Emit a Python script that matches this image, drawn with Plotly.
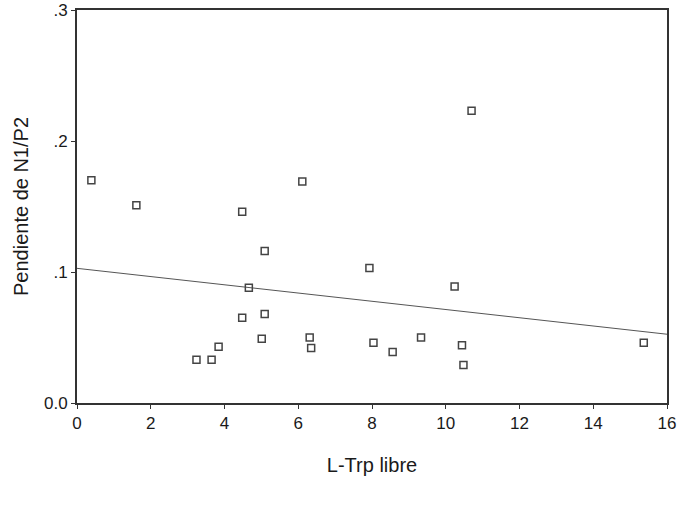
import plotly.graph_objects as go

# Data
trp_libre = [0.39, 1.61, 3.24, 3.65, 3.84, 4.48, 4.48, 4.66, 5.01, 5.09, 5.09,
             6.11, 6.31, 6.35, 7.93, 8.04, 8.56, 9.33, 10.24, 10.44, 10.48, 10.70, 15.37]
pendiente = [0.170, 0.151, 0.033, 0.033, 0.043, 0.146, 0.065, 0.088, 0.049, 0.116, 0.068,
             0.169, 0.050, 0.042, 0.103, 0.046, 0.039, 0.050, 0.089, 0.044, 0.029, 0.223, 0.046]
fit_x = [0, 16]
fit_y = [0.1028, 0.0525]

x_ticks = [0, 2, 4, 6, 8, 10, 12, 14, 16]
y_ticks = [0.0, 0.1, 0.2, 0.3]
y_tick_labels = ["0.0", ".1", ".2", ".3"]

fig = go.Figure()
fig.add_trace(go.Scatter(
    x=fit_x, y=fit_y, mode="lines",
    line=dict(color="#555555", width=1), hoverinfo="skip", showlegend=False))
fig.add_trace(go.Scatter(
    x=trp_libre, y=pendiente, mode="markers",
    marker=dict(symbol="square-open", size=7, color="#444444", line=dict(width=1.5)),
    showlegend=False))

font = "Liberation Sans, Arial, sans-serif"
fig.update_layout(
    width=683, height=506,
    margin=dict(l=77, r=16, t=10, b=103),
    paper_bgcolor="white", plot_bgcolor="white",
    font=dict(family=font, color="#1a1a1a", size=17),
    xaxis=dict(range=[0, 16], tickvals=x_ticks, showgrid=False, zeroline=False,
               automargin=False,
               showline=True, linecolor="#333333", linewidth=2, mirror=True,
               ticks="outside", ticklen=4, tickcolor="#333333",
               tickfont=dict(size=17),
               title=dict(text="L-Trp libre", font=dict(size=20), standoff=26)),
    yaxis=dict(range=[0, 0.3], tickvals=y_ticks, ticktext=y_tick_labels,
               showgrid=False, zeroline=False, automargin=False,
               showline=True, linecolor="#333333", linewidth=2, mirror=True,
               ticks="outside", ticklen=4, tickcolor="#333333",
               tickfont=dict(size=17),
               title=dict(text="Pendiente de N1/P2", font=dict(size=20), standoff=10)),
)

fig.write_html("out.html", config={"displayModeBar": False},
               post_script="document.body.style.margin='0';")
